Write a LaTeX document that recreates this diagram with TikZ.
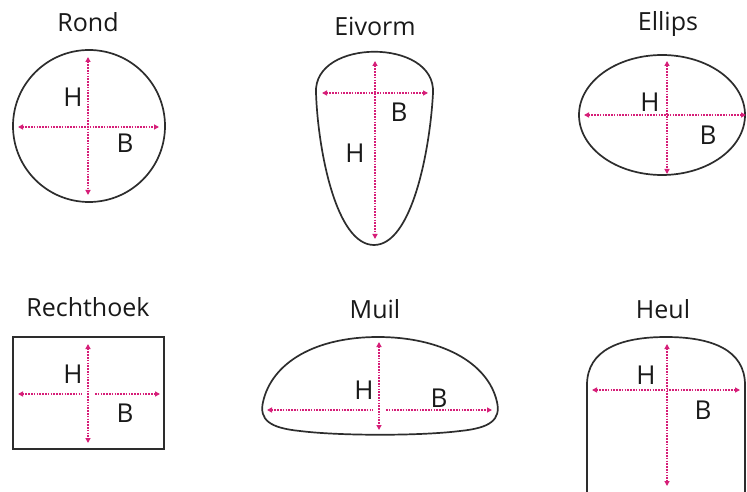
\documentclass[tikz,border=0pt]{standalone}
\usepackage{fontspec}
\setmainfont{Open Sans}
\usetikzlibrary{arrows.meta}
\definecolor{pinkline}{RGB}{214,30,120}
\definecolor{outline}{RGB}{45,45,45}
\definecolor{txt}{RGB}{25,25,25}
\tikzset{
  title/.style={font=\fontsize{25bp}{29bp}\selectfont, text=txt, inner sep=0pt},
  lbl/.style={font=\fontsize{26bp}{30bp}\selectfont, text=txt, inner sep=0pt},
  shapeline/.style={draw=outline, line width=1.7bp},
  dimline/.style={draw=pinkline, line width=1.4bp, dash pattern=on 1.6bp off 1.2bp},
  both/.style={{Triangle[length=5bp,width=5bp]}-{Triangle[length=5bp,width=5bp]}},
  tipend/.style={-{Triangle[length=5bp,width=5bp]}},
  tipstart/.style={{Triangle[length=5bp,width=5bp]}-},
}
\begin{document}
\begin{tikzpicture}[x=1bp,y=-1bp]
\useasboundingbox (0,0) rectangle (747,492);
\fill[white] (0,0) rectangle (747,492);

% ---------- Rond ----------
\node[title] (trond) at (88,22) {Rond};
\draw[shapeline] (89,126) circle[radius=76];
\coordinate (rv1) at (88,57); \coordinate (rv2) at (88,195);
\coordinate (rh1) at (18,127); \coordinate (rh2) at (159,127);
\draw[dimline,both] (rv1) -- (rv2);
\draw[dimline,both] (rh1) -- (rh2);
\node[lbl] (rondH) at (73,97) {H};
\node[lbl] (rondB) at (125,143) {B};

% ---------- Eivorm ----------
\node[title] (teivorm) at (375,26) {Eivorm};
\draw[shapeline] (316,93) .. controls (313,38) and (436,38) .. (433,93)
  .. controls (430,150) and (412,245) .. (374,245)
  .. controls (336,245) and (318,150) .. (316,93) -- cycle;
\coordinate (ev1) at (375,61); \coordinate (ev2) at (375,239);
\coordinate (eh1) at (322,93); \coordinate (eh2) at (428,93);
\draw[dimline,both] (ev1) -- (ev2);
\draw[dimline,both] (eh1) -- (eh2);
\node[lbl] (eiB) at (399,112) {B};
\node[lbl] (eiH) at (355,153) {H};

% ---------- Ellips ----------
\node[title] (tellips) at (668,24) {Ellips};
\draw[shapeline] (662,115) ellipse[x radius=83, y radius=60];
\coordinate (lv1) at (667,61); \coordinate (lv2) at (667,174);
\coordinate (lh1) at (584,115); \coordinate (lh2) at (746,115);
\draw[dimline,both] (lv1) -- (lv2);
\draw[dimline,both] (lh1) -- (lh2);
\node[lbl] (ellH) at (650,102) {H};
\node[lbl] (ellB) at (708,135) {B};

% ---------- Rechthoek ----------
\node[title] (trecht) at (88,307) {Rechthoek};
\draw[shapeline] (13,337) rectangle (164,449);
\coordinate (qv1) at (88,344); \coordinate (qv2) at (88,443);
\coordinate (qh1) at (18,394); \coordinate (qh1b) at (82,394);
\coordinate (qh2b) at (95,394); \coordinate (qh2) at (160,394);
\draw[dimline,both] (qv1) -- (qv2);
\draw[dimline,tipstart] (qh1) -- (qh1b);
\draw[dimline,tipend] (qh2b) -- (qh2);
\node[lbl] (rechH) at (73,374) {H};
\node[lbl] (rechB) at (125,413) {B};

% ---------- Muil ----------
\node[title] (tmuil) at (375,309) {Muil};
\draw[shapeline] (378,337) .. controls (440,337) and (488,362) .. (497,402)
  .. controls (501,420) and (490,428) .. (460,431)
  .. controls (420,436) and (340,436) .. (300,431)
  .. controls (270,428) and (259,420) .. (263,402)
  .. controls (272,362) and (316,337) .. (378,337) -- cycle;
\coordinate (mv1) at (379,342); \coordinate (mv2) at (379,430);
\coordinate (mh1) at (267,410); \coordinate (mh1b) at (373,410);
\coordinate (mh2b) at (386,410); \coordinate (mh2) at (492,410);
\draw[dimline,both] (mv1) -- (mv2);
\draw[dimline,tipstart] (mh1) -- (mh1b);
\draw[dimline,tipend] (mh2b) -- (mh2);
\node[lbl] (muilH) at (364,390) {H};
\node[lbl] (muilB) at (439,398) {B};

% ---------- Heul ----------
\node[title] (theul) at (663,309) {Heul};
\draw[shapeline] (587,500) -- (587,385)
  .. controls (587,350) and (620,337) .. (666,337)
  .. controls (712,337) and (745,350) .. (745,385) -- (745,500);
\coordinate (hv1) at (667,344); \coordinate (hv2) at (667,486);
\coordinate (hh1) at (592,390); \coordinate (hh2) at (740,390);
\draw[dimline,both] (hv1) -- (hv2);
\draw[dimline,both] (hh1) -- (hh2);
\node[lbl] (heulH) at (646,375) {H};
\node[lbl] (heulB) at (703,410) {B};
\end{tikzpicture}
\end{document}
